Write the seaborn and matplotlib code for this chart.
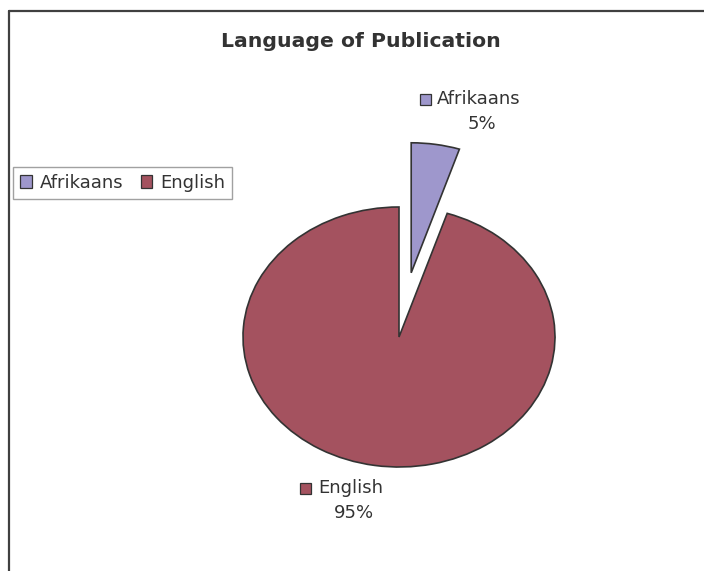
import matplotlib
matplotlib.use("Agg")
import matplotlib.pyplot as plt
from matplotlib.patches import Patch, Rectangle
from matplotlib.lines import Line2D
import seaborn as sns

# Share of publications by language (percent)
languages = ["Afrikaans", "English"]
shares = [5, 95]
colors = ["#9E97CC", "#A4525F"]

sns.set_theme(style="white")
plt.rcParams["font.family"] = ["DejaVu Sans"]

W, H = 704, 571
fig = plt.figure(figsize=(W / 100, H / 100), dpi=100)
fig.patch.set_facecolor("white")
TXT = "#333333"
FS = 13


def fx(px):
    return px / W


def fy(py):
    # pixel measured from the top edge -> figure fraction
    return 1 - py / H


# Chart frame (top and left edges visible)
fig.add_artist(Line2D([fx(9), 1.0], [fy(11), fy(11)], transform=fig.transFigure,
                      color="#404040", lw=1.6))
fig.add_artist(Line2D([fx(9), fx(9)], [fy(11), 0.0], transform=fig.transFigure,
                      color="#404040", lw=1.6))

# Pie axes: 1 data unit = 156 px horizontally, 130 px vertically (elliptical pie)
cx, cy, rx, ry, lim = 399, 337, 156, 130, 1.6
ax = fig.add_axes([fx(cx - lim * rx), fy(cy + lim * ry), 2 * lim * rx / W, 2 * lim * ry / H])
ax.pie(shares, colors=colors, startangle=90, counterclock=False,
       explode=[0.5, 0.0],
       wedgeprops=dict(edgecolor="#333333", linewidth=1.2))
ax.set_aspect("auto")
ax.set_xlim(-lim, lim)
ax.set_ylim(-lim, lim)
ax.set_axis_off()
ax.patch.set_alpha(0)

fig.text(fx(361), fy(47), "Language of Publication", ha="center", va="baseline",
         fontsize=14.7, fontweight="bold", color=TXT)

# Data labels with colour keys
label_pos = {
    "Afrikaans": dict(key=(420, 94), name=(437, 104), pct=(482, 129)),
    "English": dict(key=(300, 483), name=(318, 493), pct=(354, 518)),
}
for lang, share, col in zip(languages, shares, colors):
    p = label_pos[lang]
    kx, ky = p["key"]
    fig.add_artist(Rectangle((fx(kx), fy(ky + 11)), 11 / W, 11 / H, transform=fig.transFigure,
                             facecolor=col, edgecolor="#333333", lw=0.9))
    fig.text(fx(p["name"][0]), fy(p["name"][1]), lang, ha="left", va="baseline",
             fontsize=FS, color=TXT)
    fig.text(fx(p["pct"][0]), fy(p["pct"][1]), f"{share}%", ha="center", va="baseline",
             fontsize=FS, color=TXT)

# Legend
handles = [Patch(facecolor=c, edgecolor="#333333", lw=0.9) for c in colors]
leg = fig.legend(handles, languages, loc="upper left",
                 bbox_to_anchor=(fx(13), fy(167)), ncol=2, frameon=True,
                 fancybox=False, fontsize=FS, handlelength=0.65, handleheight=0.65,
                 handletextpad=0.45, columnspacing=0.95, borderpad=0.38,
                 borderaxespad=0.0, labelcolor=TXT)
leg.get_frame().set_edgecolor("#8a8a8a")
leg.get_frame().set_linewidth(1.0)

fig.savefig("out.png", dpi=100, facecolor="white")
